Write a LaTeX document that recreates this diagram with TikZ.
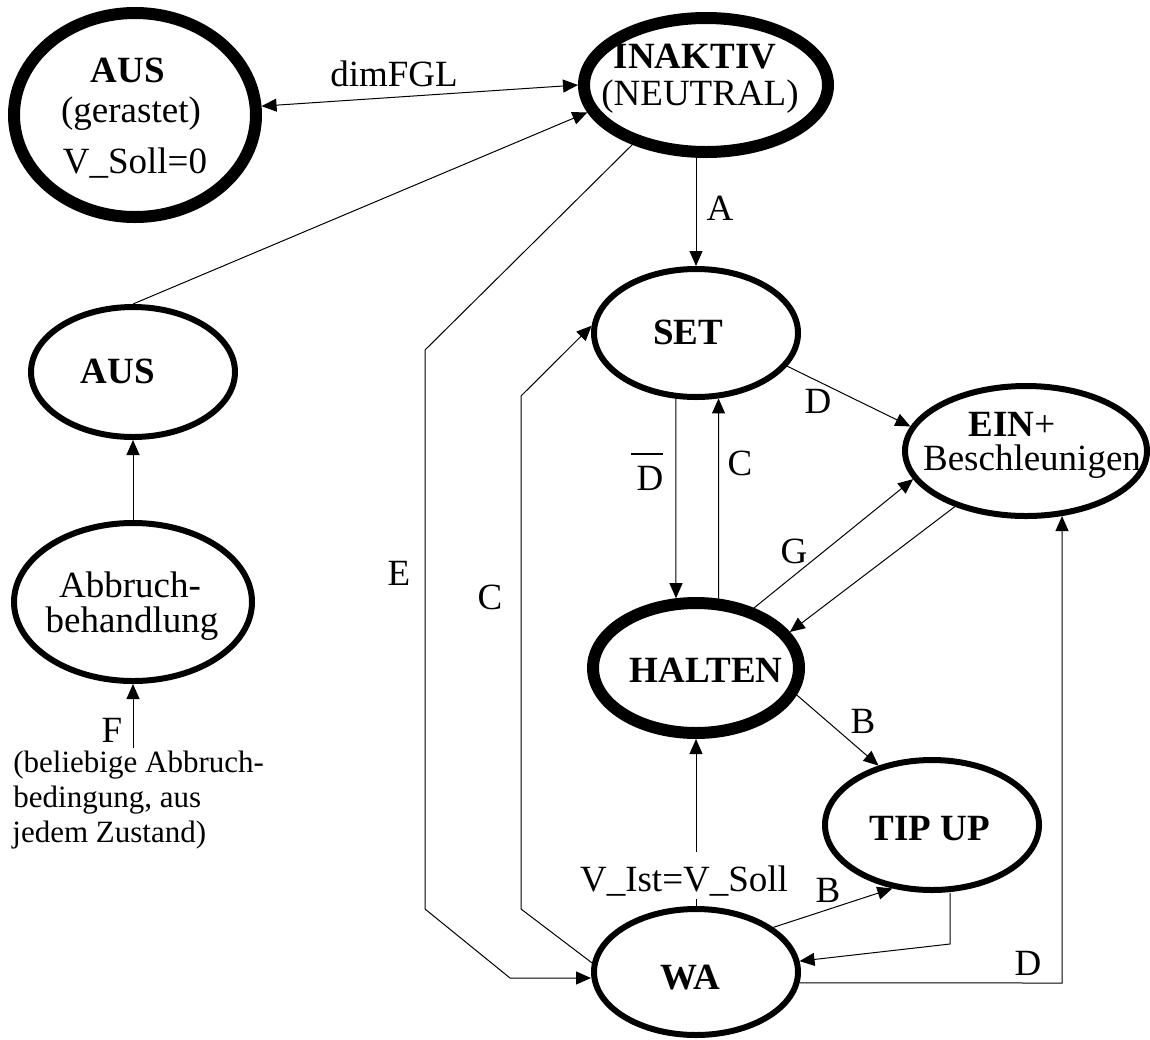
\documentclass[tikz,border=0pt]{standalone}
\usepackage{fontspec}
\setmainfont{Liberation Serif}
\usetikzlibrary{shapes.geometric,arrows.meta}

% D with a bar over it
\newcommand{\negD}{\leavevmode\rlap{\kern-2.6pt\rule[17.5pt]{16pt}{1pt}}D}

\begin{document}
\begin{tikzpicture}[x=0.5pt,y=-0.5pt,
  state/.style={ellipse, draw, inner sep=0pt, line width=3pt},
  heavy/.style={line width=6pt},
  txt/.style={inner sep=0pt, anchor=base, font=\fontsize{18.5}{22}\selectfont},
  note/.style={inner sep=0pt, anchor=base west, font=\fontsize{15.5}{17.5}\selectfont},
  tip/.style={Triangle[length=7.5pt,width=6.5pt]},
  arr/.style={draw, line width=0.5pt, -{Triangle[length=7.5pt,width=6.5pt]}},
  both/.style={draw, line width=0.5pt, {Triangle[length=7.5pt,width=6.5pt]}-{Triangle[length=7.5pt,width=6.5pt]}},
]
\useasboundingbox (0,0) rectangle (1150,1039);

% ---- states ----
\node[state, heavy, minimum width=121pt, minimum height=102pt] (ausg) at (135,115) {};
\node[state, heavy, minimum width=122pt, minimum height=67pt] (inaktiv) at (706,85) {};
\node[state, minimum width=102pt, minimum height=64pt] (set) at (696,333) {};
\node[state, minimum width=121pt, minimum height=65pt] (ein) at (1026,451) {};
\node[state, minimum width=102pt, minimum height=65pt] (aus) at (133,372) {};
\node[state, minimum width=119pt, minimum height=79pt] (abbruch) at (133,602) {};
\node[state, heavy, minimum width=103pt, minimum height=65pt] (halten) at (696,668) {};
\node[state, minimum width=107pt, minimum height=65pt] (tipup) at (932,825) {};
\node[state, minimum width=102pt, minimum height=63pt] (wa) at (696,972) {};

% ---- state texts ----
\node[txt] (tausg1) at (128,82) {\textbf{AUS}};
\node[txt] (tausg2) at (131,122) {(gerastet)};
\node[txt] (tausg3) at (135,173) {V\_Soll=0};
\node[txt] (tinak1) at (695,68) {\textbf{INAKTIV}};
\node[txt] (tinak2) at (700,105) {(NEUTRAL)};
\node[txt] (tset) at (688,344) {\textbf{SET}};
\node[txt] (tein1) at (1012,436) {\textbf{EIN}+};
\node[txt] (tein2) at (1032,470) {Beschleunigen};
\node[txt] (taus) at (118,383) {\textbf{AUS}};
\node[txt] (tabb1) at (130,597) {Abbruch-};
\node[txt] (tabb2) at (132,632) {behandlung};
\node[txt] (thalten) at (706,682) {\textbf{HALTEN}};
\node[txt] (ttip) at (930,840) {\textbf{TIP UP}};
\node[txt] (twa) at (690,989) {\textbf{WA}};

% ---- bend points ----
\coordinate (e1) at (425,350);
\coordinate (e2) at (425,909);
\coordinate (e3) at (510,978);
\coordinate (c1) at (521,909);
\coordinate (c2) at (521,396);
\coordinate (t1) at (950,944);
\coordinate (d1) at (1062,983);
\coordinate (fstart) at (133,748);

% ---- transitions ----
\draw[both] (ausg.4) -- (inaktiv.180);
\draw[arr] (aus.north) -- (inaktiv.193);
\draw[arr] (inaktiv.south -| set.north) -- (set.north);
\draw[arr] (inaktiv.219) -- (e1) -- (e2) -- (e3) -- (wa.west |- e3);
\draw[arr] (wa.175) -- (c1) -- (c2) -- (set.176);
\draw[arr] (set.253) -- (halten.106);
\draw[arr] (halten.72) -- (set.-71);
\draw[arr] (set.-20) -- (ein.168);
\draw[arr] (halten.46) -- (ein.194);
\draw[arr] (ein.218) -- (halten.21);
\draw[arr] (halten.-15) -- (tipup.132);
\draw[arr] (wa.north) -- (wa.north |- halten.south);
\draw[arr] (wa.30) -- (tipup.238);
\draw[arr] (tipup.south -| t1) -- (t1) -- (wa.6);
\draw[arr] (wa.-6) -- (d1) -- (d1 |- ein.-61);
\draw[arr] (abbruch.north) -- (aus.south);
\draw[arr] (fstart) -- (abbruch.south);

% ---- transition labels ----
\node[txt] (ldim) at (394,86) {dimFGL};
\node[txt] (la) at (720,220) {A};
\node[txt] (le) at (399,585) {E};
\node[txt] (lcl) at (490,609) {C};
\node[txt] (lnd) at (650,490) {\negD};
\node[txt] (lc) at (740,475) {C};
\node[txt] (ld1) at (818,413) {D};
\node[txt] (lg) at (794,563) {G};
\node[txt] (lb1) at (863,733) {B};
\node[txt] (lb2) at (828,902) {B};
\node[txt] (ld2) at (1028,975) {D};
\node[txt, fill=white, text height=19.5pt, text depth=4pt] (lv) at (684,891) {V\_Ist=V\_Soll};
\node[txt] (lf) at (112,742) {F};
\node[note] (n1) at (13,772) {(beliebige Abbruch-};
\node[note] (n2) at (13,807) {bedingung, aus};
\node[note] (n3) at (12,842) {jedem Zustand)};
\end{tikzpicture}
\end{document}
